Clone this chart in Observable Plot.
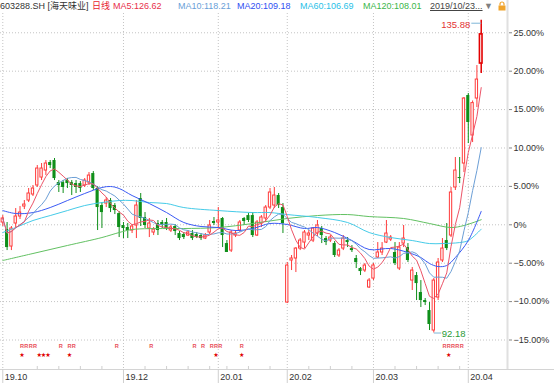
<!DOCTYPE html>
<html><head><meta charset="utf-8">
<script src="https://cdn.jsdelivr.net/npm/d3@7"></script>
<script src="https://cdn.jsdelivr.net/npm/@observablehq/plot@0.6"></script>
<style>
body{margin:0;background:#fff;}
#wrap{position:relative;width:554px;height:383px;overflow:hidden;font-family:"Liberation Sans","Noto Sans CJK SC",sans-serif;}
#hdr span{position:absolute;top:0px;font-size:9px;line-height:12px;white-space:nowrap;}
</style></head><body>
<div id="wrap"><div id="chart"></div><div id="hdr"></div></div>
<script>
const basePrice = 107.3;
const opens = [107.62,106.64,104.26,107.48,108.46,109.85,110.69,111.53,112.79,113.90,114.88,116.00,116.28,113.20,113.20,113.48,113.20,113.06,113.06,112.79,113.20,114.46,112.37,109.99,110.27,110.69,109.99,108.87,107.20,106.92,106.50,107.20,110.97,108.32,106.78,106.22,107.48,107.62,107.62,106.50,107.06,106.08,105.94,105.80,106.08,105.94,105.80,105.38,106.22,107.76,107.62,108.18,104.68,103.70,105.80,106.50,108.18,108.59,108.59,105.80,107.48,108.18,109.71,109.99,111.39,109.71,96.44,102.31,102.59,103.98,104.82,105.80,105.10,106.08,106.78,105.38,105.10,104.68,103.01,103.98,105.10,103.98,102.59,101.19,100.91,98.54,99.79,102.73,103.43,104.82,105.24,103.43,101.19,104.68,104.12,99.51,100.21,97.84,96.72,95.32,92.53,97.14,102.31,105.10,105.80,112.51,113.90,115.86,125.36,119.77,124.94,129.83];
const highs = [108.59,107.62,107.06,109.57,109.85,110.69,112.37,112.79,115.58,115.86,116.28,116.28,116.56,113.48,113.48,113.76,113.48,113.48,113.34,113.76,114.60,114.74,112.65,110.41,111.11,110.97,110.27,109.15,107.62,107.48,107.34,110.69,111.67,109.01,108.18,106.92,107.90,107.90,108.18,107.20,107.34,106.36,106.22,106.50,106.50,106.22,106.08,106.08,107.90,108.32,109.71,108.32,105.10,106.50,106.50,107.90,108.32,108.87,109.01,107.90,108.59,109.99,112.37,112.51,111.67,110.27,102.03,103.01,104.12,105.38,106.50,106.50,106.92,107.90,107.06,105.66,105.80,104.96,103.98,105.80,105.52,104.40,103.01,101.33,101.89,99.79,101.89,104.82,104.82,107.90,105.80,104.82,104.82,107.20,104.68,101.33,100.63,99.51,97.00,96.44,99.79,102.59,105.38,107.48,112.51,116.70,116.70,125.08,125.64,124.60,129.55,135.88];
const lows = [107.06,103.70,103.70,106.78,108.04,109.43,110.41,111.25,112.51,113.48,114.18,115.16,113.48,111.81,111.67,112.37,111.39,111.67,111.81,112.51,112.79,112.09,106.50,106.78,109.71,109.01,108.73,105.52,105.38,105.38,106.08,105.38,107.06,106.78,105.52,105.80,105.80,106.78,106.50,106.22,105.80,105.10,105.24,105.66,105.10,105.38,105.10,105.24,105.94,107.20,106.78,104.12,103.43,103.43,105.52,106.22,107.20,107.62,105.52,105.66,106.92,107.62,109.43,109.57,109.57,106.08,96.30,100.91,100.63,103.70,103.98,105.10,104.82,105.66,104.68,104.40,104.82,102.73,102.73,103.70,104.12,103.43,101.19,100.21,100.63,98.40,99.51,102.59,103.01,104.68,104.96,101.61,100.91,104.12,102.03,98.12,96.72,95.74,96.02,92.53,92.18,96.72,102.03,103.70,105.52,112.09,113.06,114.60,118.65,118.79,123.68,128.43];
const closes = [108.18,104.12,106.78,108.46,109.01,110.13,111.67,112.37,115.16,115.16,115.86,115.58,113.76,112.79,112.51,113.06,112.79,112.51,112.37,113.48,114.18,112.37,109.71,109.01,110.69,109.57,109.29,106.92,106.78,106.50,107.06,109.99,108.18,107.20,107.48,106.64,106.50,107.20,106.78,106.92,106.36,105.38,105.52,106.22,105.38,105.52,105.38,105.80,107.20,107.48,107.90,105.80,103.43,106.22,106.08,107.62,107.76,107.90,105.80,107.62,108.32,109.71,111.81,111.39,109.99,107.48,101.61,102.59,103.98,105.10,106.22,106.08,106.78,107.20,105.80,104.82,105.52,103.01,103.70,105.38,104.82,103.70,102.03,100.77,101.61,99.51,101.61,103.43,103.98,106.08,105.52,101.89,104.12,105.38,102.31,100.91,99.09,96.72,96.44,93.37,99.51,102.03,103.98,103.98,111.81,114.88,113.76,124.94,121.59,124.30,127.59,133.90];

const ma20Idx = [0,3,7,11,15,19,23,25,27,30,34,38,42,46,50,54,58,62,66,70,73,77,81,85,90,94,97,99,101,103,105,108,111];
const ma20Val = [109.29,108.87,109.01,109.71,110.69,111.67,112.51,112.65,112.37,111.39,110.27,109.01,107.62,107.06,106.92,106.50,106.78,107.48,107.34,106.78,106.92,106.22,105.10,103.85,103.99,103.43,102.73,101.89,101.47,101.61,102.73,105.10,109.18];
const ma60Idx = [0,3,7,11,15,19,23,27,30,34,38,42,50,58,62,66,73,80,85,90,95,99,102,106,108,111];
const ma60Val = [106.22,106.92,107.90,108.59,109.29,109.99,110.41,110.69,110.69,110.41,110.27,109.71,109.29,109.01,109.01,108.73,108.32,107.62,106.22,105.52,105.10,104.68,104.68,104.82,105.10,106.69];
const ma120Idx = [0,7,15,23,27,30,38,42,50,58,66,73,80,85,93,99,104,107,111];
const ma120Val = [102.31,103.29,104.41,105.52,106.22,106.64,106.78,106.78,106.92,107.48,108.18,108.59,108.73,108.45,108.18,107.48,106.92,107.20,108.01];

const monthIdx = [0,28,50,66,86,108];
const monthLabels = ["19.10","19.12","20.01","20.02","20.03","20.04"];
const weekIdx = [8,13,18,23,33,38,43,48,52,57,62,71,76,81,91,96,101,106];
const rIdx = [4,5,6,7,13,15,16,26,34,44,46,48,49,50,55,102,103,104,105,106];
const starIdx = [4,8,9,10,15,49,55,103];
const yTicks = [-0.15,-0.10,-0.05,0,0.05,0.10,0.15,0.20,0.25];
const maxLabel = "135.88";
const minLabel = "92.18";
const headerTexts = ["603288.SH [海天味业]","日线","MA5:126.62","MA10:118.21","MA20:109.18","MA60:106.69","MA120:108.01","2019/10/23...","▼"];
const headerColors = ["#333333","#e8232f","#e8304a","#6a9fd8","#2f4ff2","#29c1e8","#3cb64a","#444444","#808080"];

// layout
const headerX = [0,92,113,178,237,300,363,430,484];
const pct = v => v / basePrice - 1;
const candles = opens.map((o, i) => ({i, o: pct(o), h: pct(highs[i]), l: pct(lows[i]), c: pct(closes[i]), up: closes[i] >= o}));
const upC = candles.filter(d => d.up && d.i !== candles.length - 1);
const dnC = candles.filter(d => !d.up);
const lastC = candles.filter(d => d.i === candles.length - 1);
const mk = (idx, val) => idx.map((x, k) => ({i: x, v: pct(val[k])}));
const maxC = candles.reduce((a, b) => b.h > a.h ? b : a);
const minC = candles.reduce((a, b) => b.l < a.l ? b : a);

const RED = "#ff3a3a", GREEN = "#0f8f1a";
const xDom = [-0.53, 117.33], yDom = [-0.1884, 0.2751];

const chart = Plot.plot({
  width: 554, height: 383,
  marginTop: 13, marginBottom: 14, marginLeft: 0, marginRight: 46,
  style: {fontFamily: "'Liberation Sans','Noto Sans CJK SC',sans-serif", fontSize: "9px", background: "#fff", color: "#333"},
  x: {domain: xDom, axis: null},
  y: {domain: yDom, axis: null},
  marks: [
    Plot.ruleY(yTicks, {stroke: "#c4c4c4", strokeDasharray: "1,2"}),
    Plot.ruleX(monthIdx, {stroke: "#c4c4c4", strokeDasharray: "1,2"}),
    Plot.ruleX([xDom[1]], {stroke: "#e0e0e0", strokeWidth: 2, insetTop: -13, dx: -1}),
    Plot.ruleY([yDom[0]], {stroke: "#d4d4d4", insetRight: -46}),
    Plot.ruleX(monthIdx, {stroke: "#cfcfcf", insetTop: 356, insetBottom: -14}),
    Plot.ruleX(weekIdx, {stroke: "#cfcfcf", insetTop: 353}),
    Plot.text(monthIdx, {x: d => d, text: (d, k) => monthLabels[k], frameAnchor: "bottom", dy: 8, dx: 2, textAnchor: "start", lineAnchor: "middle", fill: "#333", fontSize: 9}),
    Plot.axisY(yTicks, {anchor: "right", tickFormat: d => d === 0 ? "0%" : d3.format(".2%")(d), tickSize: 3, tickPadding: 2, stroke: "#888", fill: "#333", fontSize: 9}),
    // candles
    Plot.ruleX(upC, {x: "i", y1: "l", y2: "h", stroke: RED}),
    Plot.ruleX(dnC, {x: "i", y1: "l", y2: "h", stroke: GREEN}),
    Plot.rect(dnC, {x1: d => d.i - 0.36, x2: d => d.i + 0.36, y1: "o", y2: "c", fill: GREEN}),
    Plot.rect(upC, {x1: d => d.i - 0.27, x2: d => d.i + 0.27, y1: "o", y2: "c", fill: "#fff", stroke: RED}),
    Plot.ruleX(lastC, {x: "i", y1: "l", y2: "h", stroke: "#e30000", strokeWidth: 1.5}),
    Plot.rect(lastC, {x1: d => d.i - 0.3, x2: d => d.i + 0.3, y1: "o", y2: "c", fill: "#fff", stroke: "#e30000", strokeWidth: 1.6}),
    // moving averages
    Plot.line(mk(ma120Idx, ma120Val), {x: "i", y: "v", stroke: "#62c162", strokeWidth: 1, curve: "catmull-rom"}),
    Plot.line(mk(ma60Idx, ma60Val), {x: "i", y: "v", stroke: "#45cbe8", strokeWidth: 1, curve: "catmull-rom"}),
    Plot.line(mk(ma20Idx, ma20Val), {x: "i", y: "v", stroke: "#3a5af5", strokeWidth: 1, curve: "catmull-rom"}),
    Plot.lineY(candles, Plot.windowY({k: 10, anchor: "end"}, {x: "i", y: "c", stroke: "#6c9fd6", strokeWidth: 1})),
    Plot.lineY(candles, Plot.windowY({k: 5, anchor: "end"}, {x: "i", y: "c", stroke: "#ec5468", strokeWidth: 1})),
    // markers
    Plot.text(rIdx, {x: d => d, text: () => "R", frameAnchor: "bottom", dy: -22, dx: 2, fill: "#e8505a", fontSize: 5.6, fontWeight: "bold"}),
    Plot.text(starIdx, {x: d => d, text: () => "★", frameAnchor: "bottom", dy: -14, dx: 2, fill: "#e00000", fontSize: 5}),
    // extremes
    Plot.link([maxC], {x1: d => d.i - 2.3, x2: "i", y1: "h", y2: "h", dy: 3, stroke: "#7fb6d8"}),
    Plot.text([maxC], {x: "i", y: "h", text: () => maxLabel, dx: -11, dy: 5, textAnchor: "end", fill: "#e33232", fontSize: 9.5}),
    Plot.link([minC], {x1: "i", x2: d => d.i + 1.7, y1: "l", y2: "l", stroke: "#7fb6d8"}),
    Plot.text([minC], {x: "i", y: "l", text: () => minLabel, dx: 8, dy: 1, textAnchor: "start", fill: "#2a9a35", fontSize: 9.5})
  ]
});
document.getElementById("chart").appendChild(chart);

const hdr = document.getElementById("hdr");
headerTexts.forEach((t, k) => {
  const s = document.createElement("span");
  s.textContent = t;
  s.style.left = headerX[k] + "px";
  s.style.color = headerColors[k];
  if (k === 7) s.style.textDecoration = "underline";
  hdr.appendChild(s);
});
const lock = document.createElementNS("http://www.w3.org/2000/svg", "svg");
lock.setAttribute("width", "8"); lock.setAttribute("height", "10");
lock.style.position = "absolute"; lock.style.left = "498px"; lock.style.top = "1px";
lock.innerHTML = '<path d="M2 4.5V3a2 2 0 0 1 4 0v1.5" fill="none" stroke="#f0a32a" stroke-width="1.2"/><rect x="0.5" y="4.5" width="7" height="5" fill="#f0a32a"/>';
hdr.appendChild(lock);
</script>
</body></html>
